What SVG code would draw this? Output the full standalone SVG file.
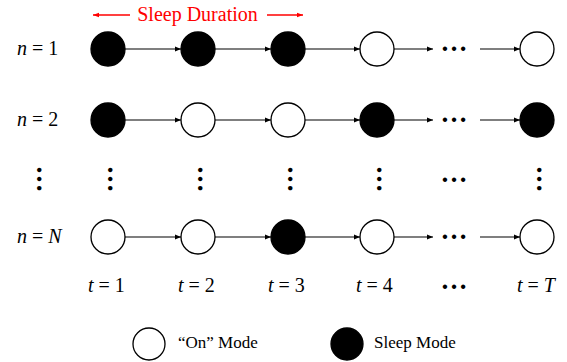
<svg xmlns="http://www.w3.org/2000/svg" width="567" height="362" viewBox="0 0 567 362">
<style>
.on{fill:#fff;stroke:#000;stroke-width:1.3}
.sl{fill:#000;stroke:#000;stroke-width:1.3}
.ln{stroke:#000;stroke-width:1.1;fill:none}
.rd{stroke:#f00;stroke-width:1.3;fill:none}
.m{font-family:"Liberation Serif",serif;font-size:20px;fill:#000}
.m tspan.i{font-style:italic}
.tt{font-family:"Liberation Serif",serif;font-size:20px;fill:#f00;text-anchor:middle}
.lg{font-family:"Liberation Serif",serif;font-size:17px;fill:#000}
.dt{font-family:"Liberation Serif",serif;font-size:27px;font-weight:bold;fill:#000;text-anchor:middle}
</style>
<defs>
<marker id="ah" viewBox="0 0 6 6" refX="6" refY="3" markerWidth="6" markerHeight="6" markerUnits="userSpaceOnUse" orient="auto"><path d="M0,0.6 L6,3 L0,5.4 Z" fill="#000"/></marker>
<marker id="ar" viewBox="0 0 6 6" refX="6" refY="3" markerWidth="6" markerHeight="6" markerUnits="userSpaceOnUse" orient="auto"><path d="M0,0.8 L6,3 L0,5.2 Z" fill="#f00"/></marker>
</defs>
<g id="title">
<line class="rd" x1="130" y1="15" x2="93" y2="15" marker-end="url(#ar)"/>
<text class="tt" x="197.5" y="21">Sleep Duration</text>
<line class="rd" x1="267" y1="15" x2="303" y2="15" marker-end="url(#ar)"/>
</g>
<g id="row-labels">
<text class="m" x="17" y="55"><tspan class="i">n</tspan> = 1</text>
<text class="m" x="17" y="126"><tspan class="i">n</tspan> = 2</text>
<text class="m" x="17" y="243"><tspan class="i">n</tspan> = <tspan class="i">N</tspan></text>
</g>
<g id="connectors">
<line class="ln" x1="125" y1="49" x2="181" y2="49" marker-end="url(#ah)"/>
<line class="ln" x1="215" y1="49" x2="271" y2="49" marker-end="url(#ah)"/>
<line class="ln" x1="305" y1="49" x2="360" y2="49" marker-end="url(#ah)"/>
<line class="ln" x1="394" y1="49" x2="433" y2="49" marker-end="url(#ah)"/>
<line class="ln" x1="480" y1="49" x2="520" y2="49" marker-end="url(#ah)"/>
<line class="ln" x1="125" y1="120" x2="181" y2="120" marker-end="url(#ah)"/>
<line class="ln" x1="215" y1="120" x2="271" y2="120" marker-end="url(#ah)"/>
<line class="ln" x1="305" y1="120" x2="360" y2="120" marker-end="url(#ah)"/>
<line class="ln" x1="394" y1="120" x2="433" y2="120" marker-end="url(#ah)"/>
<line class="ln" x1="480" y1="120" x2="520" y2="120" marker-end="url(#ah)"/>
<line class="ln" x1="125" y1="237" x2="181" y2="237" marker-end="url(#ah)"/>
<line class="ln" x1="215" y1="237" x2="271" y2="237" marker-end="url(#ah)"/>
<line class="ln" x1="305" y1="237" x2="360" y2="237" marker-end="url(#ah)"/>
<line class="ln" x1="394" y1="237" x2="433" y2="237" marker-end="url(#ah)"/>
<line class="ln" x1="480" y1="237" x2="520" y2="237" marker-end="url(#ah)"/>
</g>
<g id="row1">
<circle id="n1t1" class="sl" cx="108" cy="49" r="17"/>
<circle id="n1t2" class="sl" cx="198" cy="49" r="17"/>
<circle id="n1t3" class="sl" cx="288" cy="49" r="17"/>
<circle id="n1t4" class="on" cx="377" cy="49" r="17"/>
<text class="dt" x="454" y="50.5">…</text>
<circle id="n1tT" class="on" cx="537" cy="49" r="17"/>
</g>
<g id="row2">
<circle id="n2t1" class="sl" cx="108" cy="120" r="17"/>
<circle id="n2t2" class="on" cx="198" cy="120" r="17"/>
<circle id="n2t3" class="on" cx="288" cy="120" r="17"/>
<circle id="n2t4" class="sl" cx="377" cy="120" r="17"/>
<text class="dt" x="454" y="121.5">…</text>
<circle id="n2tT" class="sl" cx="537" cy="120" r="17"/>
</g>
<g id="vdots">
<text class="dt" x="38" y="180.5" transform="rotate(90 38 179)">…</text>
<text class="dt" x="109" y="180.5" transform="rotate(90 109 179)">…</text>
<text class="dt" x="199" y="180.5" transform="rotate(90 199 179)">…</text>
<text class="dt" x="289" y="180.5" transform="rotate(90 289 179)">…</text>
<text class="dt" x="378" y="180.5" transform="rotate(90 378 179)">…</text>
<text class="dt" x="454" y="181.5">…</text>
<text class="dt" x="538" y="180.5" transform="rotate(90 538 179)">…</text>
</g>
<g id="rowN">
<circle id="nNt1" class="on" cx="108" cy="237" r="17"/>
<circle id="nNt2" class="on" cx="198" cy="237" r="17"/>
<circle id="nNt3" class="sl" cx="288" cy="237" r="17"/>
<circle id="nNt4" class="on" cx="377" cy="237" r="17"/>
<text class="dt" x="454" y="238.5">…</text>
<circle id="nNtT" class="on" cx="537" cy="237" r="17"/>
</g>
<g id="time-labels">
<text class="m" x="88" y="292"><tspan class="i">t</tspan> = 1</text>
<text class="m" x="178" y="292"><tspan class="i">t</tspan> = 2</text>
<text class="m" x="268" y="292"><tspan class="i">t</tspan> = 3</text>
<text class="m" x="356" y="292"><tspan class="i">t</tspan> = 4</text>
<text class="dt" x="454" y="288.5">…</text>
<text class="m" x="517" y="292"><tspan class="i">t</tspan> = <tspan class="i">T</tspan></text>
</g>
<g id="legend-on">
<circle class="on" cx="149" cy="344" r="16"/>
<text class="lg" x="178" y="348">“On” Mode</text>
</g>
<g id="legend-sleep">
<circle class="sl" cx="347" cy="344" r="16"/>
<text class="lg" x="374" y="348">Sleep Mode</text>
</g>
</svg>
